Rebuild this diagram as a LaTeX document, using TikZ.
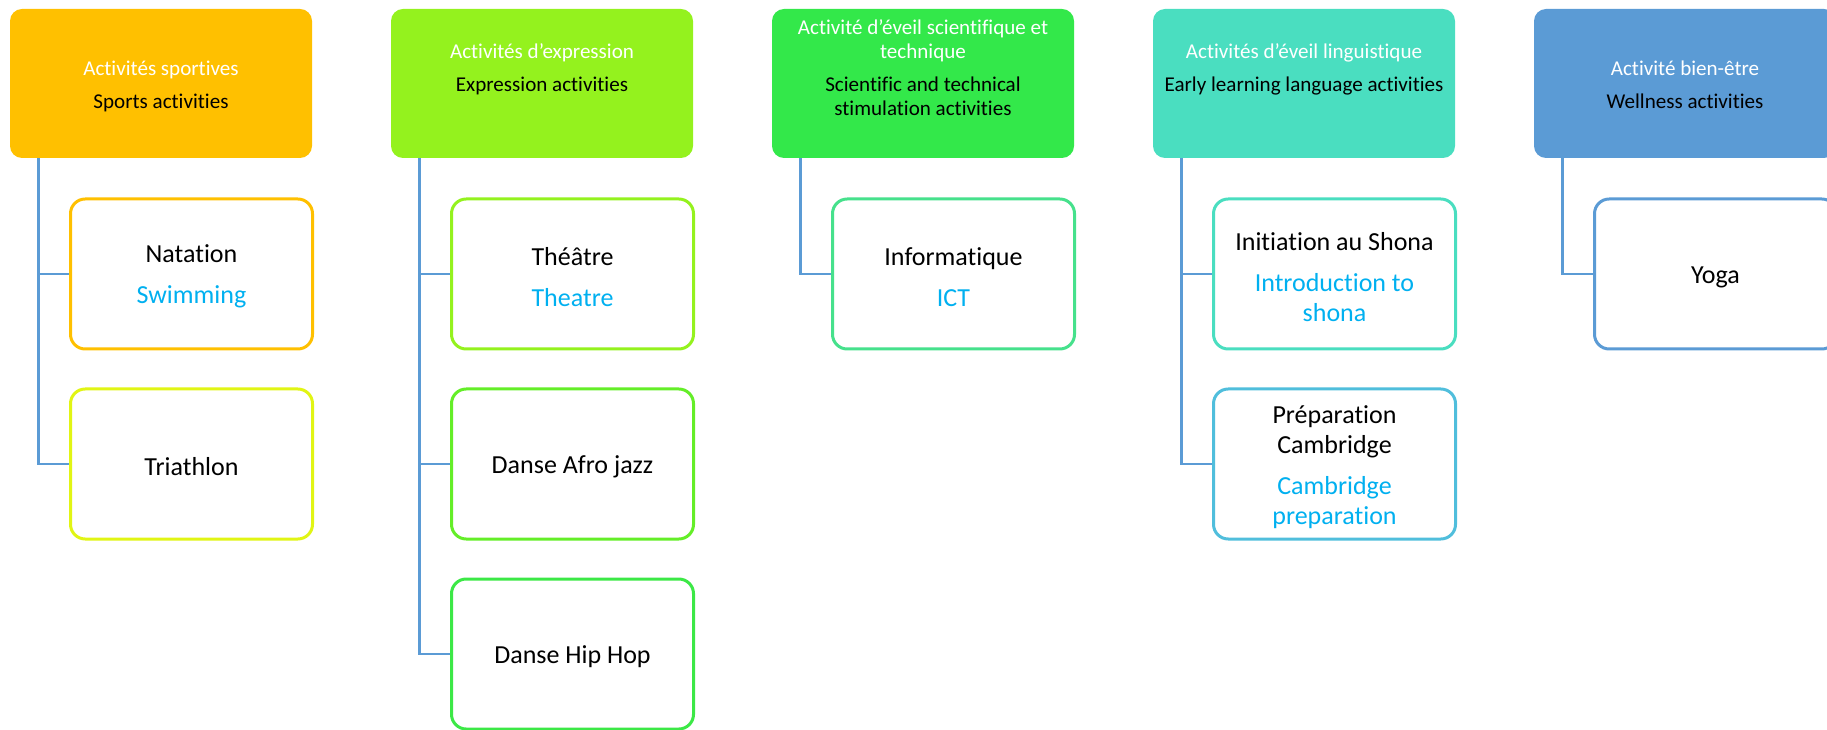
\documentclass[tikz,border=0pt]{standalone}
\usepackage{fontspec}
\setmainfont[RawFeature={-liga;-clig;-dlig;-calt}]{Carlito}
\usepackage{tikz}
\usetikzlibrary{positioning}
\definecolor{hdrA}{RGB}{255,192,0}
\definecolor{hdrB}{RGB}{148,242,30}
\definecolor{hdrC}{RGB}{51,232,74}
\definecolor{hdrD}{RGB}{74,222,192}
\definecolor{hdrE}{RGB}{91,155,213}
\definecolor{subA}{RGB}{225,245,20}
\definecolor{subB}{RGB}{100,238,40}
\definecolor{subC}{RGB}{60,232,70}
\definecolor{subD}{RGB}{70,225,140}
\definecolor{subE}{RGB}{80,190,220}
\definecolor{engl}{RGB}{0,176,240}
\definecolor{linkblue}{RGB}{91,155,213}
\newcommand{\hstrut}{\rule{0pt}{17.8pt}}
\newcommand{\cstrut}{\rule{0pt}{17.5pt}}

\begin{document}
\begin{tikzpicture}[
			x=0.75pt, y=-0.75pt,
			hdr/.style={rectangle,rounded corners=9pt,inner sep=0pt,minimum width=226.5pt,minimum height=111.75pt,align=center,font=\fontsize{15.8}{18}\selectfont},
			sub/.style={rectangle,draw,line width=2.25pt,rounded corners=11pt,fill=white,inner sep=0pt,minimum width=181.5pt,minimum height=112.5pt,align=center,font=\fontsize{19.5}{22.5}\selectfont},
			link/.style={draw=linkblue,line width=2pt}
		]

		\clip (0,0) rectangle (1827,730);

		% Category headers
		\node[hdr,fill=hdrA] (H1) at (161,83.5) {\hstrut\textcolor{white}{Activités sportives}\\[6.75pt]Sports activities\strut};
		\node[hdr,fill=hdrB] (H2) at (542,83.5) {\hstrut\textcolor{white}{Activités d’expression}\\[6.75pt]Expression activities\\[6.75pt]\strut};
		\node[hdr,fill=hdrC] (H3) at (923,83.5) {\hstrut\textcolor{white}{Activité d’éveil scientifique et}\\\textcolor{white}{technique}\\[6.75pt]Scientific and technical\\stimulation activities\\[6.75pt]\strut};
		\node[hdr,fill=hdrD] (H4) at (1304,83.5) {\hstrut\textcolor{white}{Activités d’éveil linguistique}\\[6.75pt]Early learning language activities\\[6.75pt]\strut};
		\node[hdr,fill=hdrE] (H5) at (1685,83.5) {\hstrut\textcolor{white}{Activité bien-être}\\[6.75pt]Wellness activities\strut};

		% Trunks below the headers
		\foreach \c in {1,...,5} \coordinate (T\c) at ([xshift=21.75pt]H\c.south west);

		% Activities
		\node[sub,draw=hdrA] (C11) at (191.5,274) {\cstrut Natation\\[8.25pt]\textcolor{engl}{Swimming}};
		\node[sub,draw=subA] (C12) at (191.5,464) {\cstrut Triathlon};

		\node[sub,draw=hdrB] (C21) at (572.5,274) {\cstrut Théâtre\\[8.25pt]\textcolor{engl}{Theatre}};
		\node[sub,draw=subB] (C22) at (572.5,464) {\cstrut Danse Afro jazz};
		\node[sub,draw=subC] (C23) at (572.5,654) {\cstrut Danse Hip Hop};

		\node[sub,draw=subD] (C31) at (953.5,274) {\cstrut Informatique\\[8.25pt]\textcolor{engl}{ICT}};

		\node[sub,draw=hdrD] (C41) at (1334.5,274) {\cstrut Initiation au Shona\\[8.25pt]\textcolor{engl}{Introduction to}\\\textcolor{engl}{shona}};
		\node[sub,draw=subE] (C42) at (1334.5,464) {\cstrut Préparation\\Cambridge\\[8.25pt]\textcolor{engl}{Cambridge}\\\textcolor{engl}{preparation}};

		\node[sub,draw=hdrE] (C51) at (1715.5,274) {\cstrut Yoga};

		% Connectors
		\draw[link] (T1) |- (C11.west);
		\draw[link] (T1) |- (C12.west);
		\draw[link] (T2) |- (C21.west);
		\draw[link] (T2) |- (C22.west);
		\draw[link] (T2) |- (C23.west);
		\draw[link] (T3) |- (C31.west);
		\draw[link] (T4) |- (C41.west);
		\draw[link] (T4) |- (C42.west);
		\draw[link] (T5) |- (C51.west);

	\end{tikzpicture}
\end{document}
